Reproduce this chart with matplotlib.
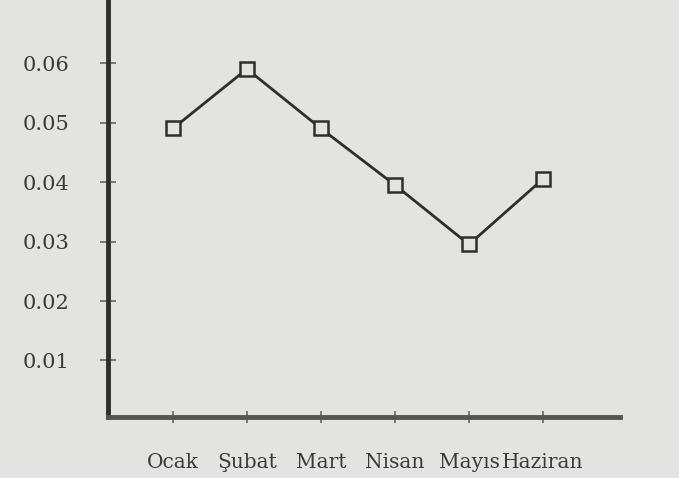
import matplotlib.pyplot as plt

months = ["Ocak", "Şubat", "Mart", "Nisan", "Mayıs", "Haziran"]
values = [0.049, 0.059, 0.049, 0.0395, 0.0295, 0.0405]
yticks = [0.01, 0.02, 0.03, 0.04, 0.05, 0.06]

bg = "#e3e3e1"
ink = "#2e2e2e"

fig = plt.figure(figsize=(6.79, 4.78), dpi=100, facecolor=bg)
ax = fig.add_axes([0.159, 0.1276, 0.754, 0.8724], facecolor=bg)

x = range(len(months))
ax.plot(x, values, color=ink, lw=2, marker="s", ms=9.5,
        mfc=bg, mec=ink, mew=1.8, zorder=3)

ax.set_xlim(-0.878, 6.04)
ax.set_ylim(0.0005, 0.0706)

ax.set_yticks(yticks)
ax.set_yticklabels([f"{v:.2f}" for v in yticks])
ax.set_xticks(list(x))
ax.set_xticklabels(months)

for s in ["top", "right"]:
    ax.spines[s].set_visible(False)
ax.spines["left"].set_linewidth(3.5)
ax.spines["left"].set_color(ink)
ax.spines["bottom"].set_linewidth(3.5)
ax.spines["bottom"].set_color("#555555")

ax.tick_params(axis="y", direction="inout", length=12, width=1.2,
               color="#666", labelsize=15, labelcolor="#3a3a3a", pad=22)
ax.tick_params(axis="x", direction="inout", length=8, width=1.2,
               color="#666", labelsize=14.5, labelcolor="#3a3a3a", pad=22)
for lab in ax.get_xticklabels() + ax.get_yticklabels():
    lab.set_family("DejaVu Serif")

fig.savefig("out.png", dpi=100, facecolor=bg)
